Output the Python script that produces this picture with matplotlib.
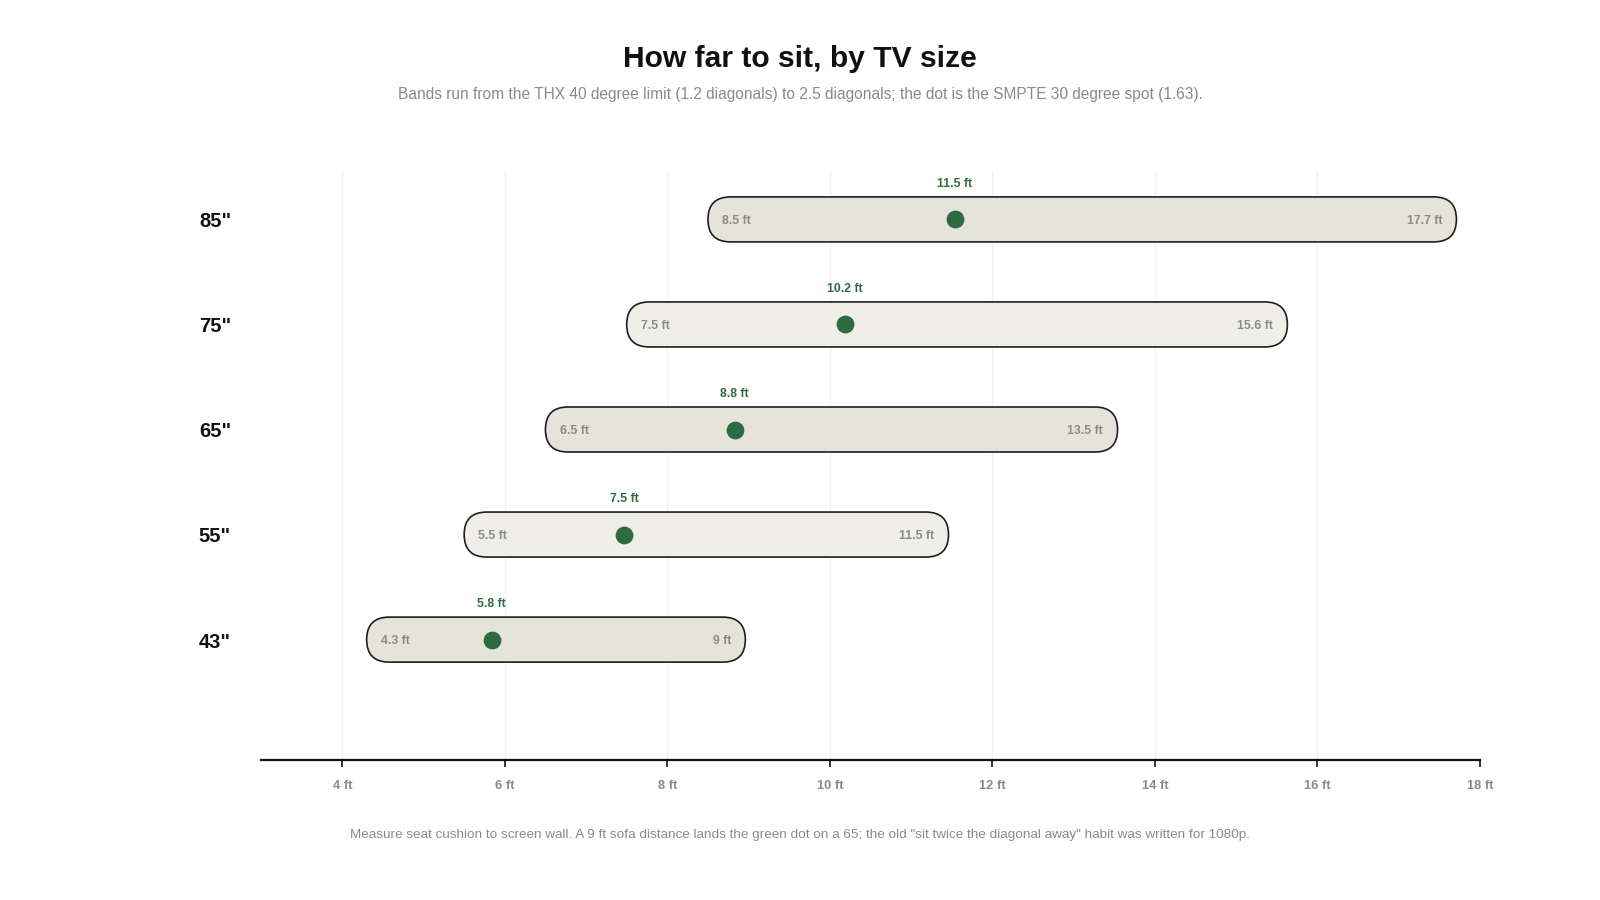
import matplotlib
matplotlib.use("Agg")
import matplotlib.pyplot as plt
from matplotlib.patches import FancyBboxPatch

plt.rcParams['font.family'] = ['Liberation Sans', 'DejaVu Sans']

# data: seating distance bands in feet
sizes = ['43"', '55"', '65"', '75"', '85"']
near_ft = [4.3, 5.5, 6.5, 7.5, 8.5]       # THX 40 degree limit (1.2 diagonals)
spot_ft = [5.84, 7.47, 8.83, 10.19, 11.54]  # SMPTE 30 degree spot (1.63)
far_ft = [8.96, 11.46, 13.54, 15.63, 17.71]  # 2.5 diagonals
ticks_ft = [4, 6, 8, 10, 12, 14, 16, 18]

GREEN = '#2e6b41'
GREY = '#8a8a8a'
FILLS = ['#e6e3da', '#efeee9']


def fmt(v):
    s = f"{v:.1f}"
    if s.endswith('.0'):
        s = s[:-2]
    return s + ' ft'


W, H, DPI = 1600, 900, 100
fig = plt.figure(figsize=(W / DPI, H / DPI), dpi=DPI)
fig.patch.set_facecolor('white')

left, right, bottom, top = 261 / W, 1480 / W, 1 - 760 / H, 1 - 171.5 / H
ax = fig.add_axes([left, bottom, right - left, top - bottom])

xmin, xmax = 3, 18
ymin, ymax = -1.146, 4.456
ax.set_xlim(xmin, xmax)
ax.set_ylim(ymin, ymax)

# pixels per data unit, so the pill caps come out round
sx = (right - left) * W / (xmax - xmin)
sy = (top - bottom) * H / (ymax - ymin)
band_px = 45
band_h = band_px / sy
r = (band_px / 2) / sx

for x in ticks_ft:
    ax.axvline(x, color='#f0f0f0', lw=1, zorder=0)

for i, (lab, lo, mid, hi) in enumerate(zip(sizes, near_ft, spot_ft, far_ft)):
    pill = FancyBboxPatch((lo, i - band_h / 2), hi - lo, band_h,
                          boxstyle=f"round,pad=0,rounding_size={r}",
                          mutation_aspect=sx / sy,
                          facecolor=FILLS[i % 2], edgecolor='#1e1e1e',
                          linewidth=1.2, zorder=2)
    ax.add_patch(pill)
    ax.plot(mid, i, 'o', color=GREEN, markersize=11.8, zorder=3)
    ax.annotate(fmt(mid), (mid, i), xytext=(0, 25.7), textcoords='offset points',
                ha='center', va='center', color=GREEN, fontsize=8.8,
                fontweight='bold')
    ax.annotate(fmt(lo), (lo, i), xytext=(10.3, 0), textcoords='offset points',
                ha='left', va='center_baseline', color=GREY, fontsize=8.8,
                fontweight='bold', zorder=4)
    ax.annotate(fmt(hi), (hi, i), xytext=(-10.3, 0), textcoords='offset points',
                ha='right', va='center_baseline', color=GREY, fontsize=8.8,
                fontweight='bold', zorder=4)
    fig.text(231 / W, 1 - (640 - i * 105.1) / H, lab, ha='right',
             va='center_baseline', fontsize=14.5, fontweight='bold',
             color='#111111')

for s in ['top', 'right', 'left']:
    ax.spines[s].set_visible(False)
ax.spines['bottom'].set_color('#111111')
ax.spines['bottom'].set_linewidth(1.6)
ax.set_yticks([])
ax.set_xticks(ticks_ft)
ax.set_xticklabels([f"{t} ft" for t in ticks_ft])
ax.tick_params(axis='x', length=5, width=1.2, color='#111111', pad=9.5,
               labelsize=9.3, labelcolor=GREY)
for t in ax.get_xticklabels():
    t.set_fontweight('bold')

fig.text(0.5, 1 - 59 / H, "How far to sit, by TV size", ha='center',
         va='center', fontsize=21.6, fontweight='bold', color='#111111')
fig.text(0.5, 1 - 95 / H,
         "Bands run from the THX 40 degree limit (1.2 diagonals) to 2.5 diagonals; "
         "the dot is the SMPTE 30 degree spot (1.63).",
         ha='center', va='center', fontsize=11.2, color=GREY)
fig.text(0.5, 1 - 835 / H,
         'Measure seat cushion to screen wall. A 9 ft sofa distance lands the green '
         'dot on a 65; the old "sit twice the diagonal away" habit was written for 1080p.',
         ha='center', va='center', fontsize=9.7, color=GREY)

fig.savefig('out.png', dpi=DPI)
